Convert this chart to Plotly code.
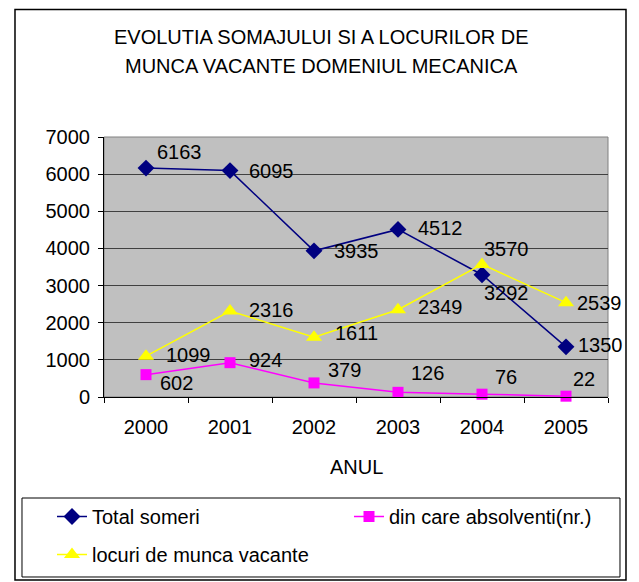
import plotly.graph_objects as go

years = ["2000", "2001", "2002", "2003", "2004", "2005"]
total_someri = [6163, 6095, 3935, 4512, 3292, 1350]
absolventi = [602, 924, 379, 126, 76, 22]
locuri_vacante = [1099, 2316, 1611, 2349, 3570, 2539]

y_ticks = [0, 1000, 2000, 3000, 4000, 5000, 6000, 7000]

font = "Liberation Sans, Arial, sans-serif"
lbl_font = dict(family=font, size=20, color="black")

# pixel offsets of the value labels from their points (Excel-like placement)
series = [
    dict(name="Total someri", y=total_someri, color="#000080", symbol="diamond",
         size=13, legend="legend", group="a",
         shift=[(33, 16), (41, 0), (42, 0), (42, 1), (24, -18), (34, 2)]),
    dict(name="din care absolventi(nr.)", y=absolventi, color="#FF00FF",
         symbol="square", size=11, legend="legend2", group="c",
         shift=[(30, -8), (35, 3), (30, 13), (29, 19), (24, 17), (18, 17)]),
    dict(name="locuri de munca vacante", y=locuri_vacante, color="#FFFF00",
         symbol="triangle-up", size=14, legend="legend", group="b",
         shift=[(42, 1), (41, 1), (42, 4), (42, 3), (24, 15), (33, 0)]),
]

fig = go.Figure()

for s in series:
    fig.add_trace(go.Scatter(
        x=years, y=s["y"], name=s["name"],
        mode="lines+markers", legend=s["legend"], legendgroup=s["group"],
        line=dict(color=s["color"], width=1.5),
        marker=dict(symbol=s["symbol"], size=s["size"], color=s["color"]),
        cliponaxis=False,
    ))

# value labels (x given as the category index on the category axis)
for s in series:
    for i, (yv, (dx, dy)) in enumerate(zip(s["y"], s["shift"])):
        fig.add_annotation(x=i, y=yv, xref="x", yref="y", text=str(yv),
                           showarrow=False, xanchor="center", yanchor="middle",
                           xshift=dx, yshift=dy, font=lbl_font)

# plot area border, outer chart border, legend box
fig.add_shape(type="rect", xref="paper", yref="paper", x0=0, x1=1, y0=0, y1=1,
              line=dict(color="#808080", width=1), layer="below")
fig.add_shape(type="rect", xref="paper", yref="paper",
              x0=-0.1766, x1=1.0357, y0=-0.7038, y1=1.4904,
              line=dict(color="black", width=1.5))
fig.add_shape(type="rect", xref="paper", yref="paper",
              x0=-0.1627, x1=1.0238, y0=-0.6923, y1=-0.3885,
              line=dict(color="black", width=1))

fig.add_annotation(text="EVOLUTIA SOMAJULUI SI A LOCURILOR DE",
                   xref="paper", yref="paper", x=0.4306, y=1.385,
                   xanchor="center", yanchor="middle", showarrow=False,
                   font=dict(family=font, size=20, color="black"))
fig.add_annotation(text="MUNCA VACANTE DOMENIUL MECANICA",
                   xref="paper", yref="paper", x=0.4306, y=1.273,
                   xanchor="center", yanchor="middle", showarrow=False,
                   font=dict(family=font, size=20, color="black"))
fig.add_annotation(text="ANUL", xref="paper", yref="paper", x=0.5, y=-0.269,
                   xanchor="center", yanchor="middle", showarrow=False,
                   font=dict(family=font, size=20, color="black"))

leg_font = dict(family=font, size=20, color="black")

fig.update_layout(
    width=631, height=574,
    margin=dict(l=96, r=31, t=129, b=185, autoexpand=False),
    paper_bgcolor="white",
    plot_bgcolor="#C0C0C0",
    font=dict(family=font, size=20, color="black"),
    showlegend=True,
    legend=dict(
        xref="container", yref="container",
        x=44 / 631, y=1 - 489 / 574, xanchor="left", yanchor="top",
        bgcolor="rgba(0,0,0,0)", borderwidth=0,
        font=leg_font, tracegroupgap=9,
    ),
    legend2=dict(
        xref="container", yref="container",
        x=341 / 631, y=1 - 489 / 574, xanchor="left", yanchor="top",
        bgcolor="rgba(0,0,0,0)", borderwidth=0,
        font=leg_font,
    ),
    xaxis=dict(
        type="category", range=[-0.5, 5.5], tickson="boundaries",
        ticks="outside", ticklen=5,
        tickcolor="black", showline=True, linecolor="black", linewidth=1,
        showgrid=False, ticklabelstandoff=12,
    ),
    yaxis=dict(
        range=[0, 7000], tickvals=y_ticks, ticks="outside", ticklen=5,
        tickcolor="black", showline=True, linecolor="black", linewidth=1,
        showgrid=True, gridcolor="#404040", gridwidth=1, zeroline=False,
        ticklabelstandoff=4,
    ),
)

fig.write_html("out.html")
